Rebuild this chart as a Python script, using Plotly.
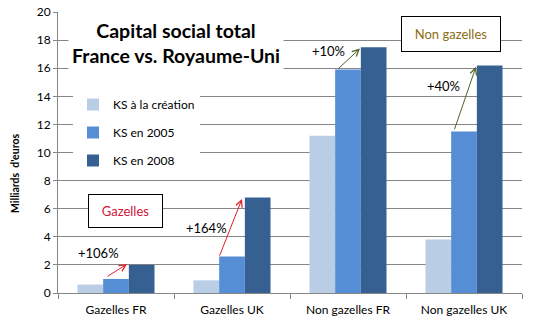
import plotly.graph_objects as go

categories = ["Gazelles FR", "Gazelles UK", "Non gazelles FR", "Non gazelles UK"]
series_names = ["KS à la création", "KS en 2005", "KS en 2008"]
ks_creation = [0.6, 0.9, 11.2, 3.8]
ks_2005 = [1.0, 2.6, 15.9, 11.5]
ks_2008 = [2.0, 6.8, 17.5, 16.2]
colors = ["#b9cde5", "#558ed5", "#376092"]
growth_labels = ["+106%", "+164%", "+10%", "+40%"]
y_ticks = [0, 2, 4, 6, 8, 10, 12, 14, 16, 18, 20]

FONT = "Lato"
L, R, T, B = 58, 12, 12, 31
W, H = 534, 324
PW, PH = W - L - R, H - T - B


def px_x(px):
    return (px - L) / PW


def px_y(py):
    return (H - B - py) / PH


fig = go.Figure()
for i, (name, vals) in enumerate(zip(series_names, [ks_creation, ks_2005, ks_2008])):
    fig.add_trace(go.Bar(x=categories, y=vals, name=name, marker_color=colors[i],
                         marker_line_width=0, legendgroup=str(i)))

# arrows (tail -> head) in data coords
arrows = [
    ((-0.086, 1.12), (0.095, 2.05), "#e0202a"),
    ((0.888, 2.55), (1.086, 6.69), "#e0202a"),
    ((1.908, 15.9), (2.103, 17.4), "#4f6228"),
    ((2.914, 11.55), (3.103, 16.1), "#4f6228"),
]
label_pos = [(-0.155, 2.84), (0.784, 4.62), (1.836, 17.2), (2.819, 14.7)]
ann = []
for (t, h, c) in arrows:
    ann.append(dict(x=h[0], y=h[1], ax=t[0], ay=t[1], xref="x", yref="y", axref="x", ayref="y",
                    showarrow=True, arrowhead=5, arrowsize=1.3, arrowwidth=1, arrowcolor=c, text=""))
for lab, (x, y) in zip(growth_labels, label_pos):
    ann.append(dict(x=x, y=y, xref="x", yref="y", text=lab, showarrow=False,
                    font=dict(family=FONT, size=13, color="#000000")))

# title block
ann.append(dict(x=px_x(176), y=px_y(43), xref="paper", yref="paper", xanchor="center",
                yanchor="middle",
                text="<b>Capital social total<br>France vs. Royaume-Uni</b>", showarrow=False,
                font=dict(family=FONT, size=19.5, color="#000000"), bgcolor="white",
                borderpad=3, align="center"))
# Boxes
ann.append(dict(x=0.082, y=5.84, xref="x", yref="y", text="Gazelles", showarrow=False,
                font=dict(family=FONT, size=13, color="#d0143a"), bgcolor="white",
                bordercolor="black", borderwidth=1, width=71, height=30))
ann.append(dict(x=2.888, y=18.4, xref="x", yref="y", text="Non gazelles", showarrow=False,
                font=dict(family=FONT, size=13, color="#8c6d14"), bgcolor="white",
                bordercolor="black", borderwidth=1, width=96, height=32))
# y axis title
ann.append(dict(x=px_x(15), y=px_y(174), xref="paper", yref="paper", xanchor="center",
                yanchor="middle",
                text="<b>Milliards  d'euros</b>", textangle=-90, showarrow=False,
                font=dict(family=FONT, size=10.5, color="#000000")))

fig.update_layout(
    width=W, height=H,
    margin=dict(l=L, r=R, t=T, b=B),
    paper_bgcolor="white", plot_bgcolor="white",
    barmode="group", bargap=0.336, bargroupgap=0,
    font=dict(family=FONT, size=12, color="#000000"),
    annotations=ann,
    legend=dict(x=px_x(73), y=px_y(90), xanchor="left", yanchor="top", bgcolor="white",
                font=dict(family=FONT, size=12), tracegroupgap=9, itemwidth=30),
    xaxis=dict(showline=True, linecolor="#868686", linewidth=1, ticks="outside",
               tickson="boundaries", ticklen=5, tickcolor="#868686", automargin=False,
               tickfont=dict(family=FONT, size=12), showgrid=False, ticklabelstandoff=6),
    yaxis=dict(range=[0, 20], tickvals=y_ticks, showline=True, linecolor="#868686",
               linewidth=1, ticks="outside", ticklen=4, tickcolor="#868686", automargin=False,
               showgrid=True, gridcolor="#868686", gridwidth=1,
               tickfont=dict(family=FONT, size=12), zeroline=False),
)
fig.write_html("out.html")
